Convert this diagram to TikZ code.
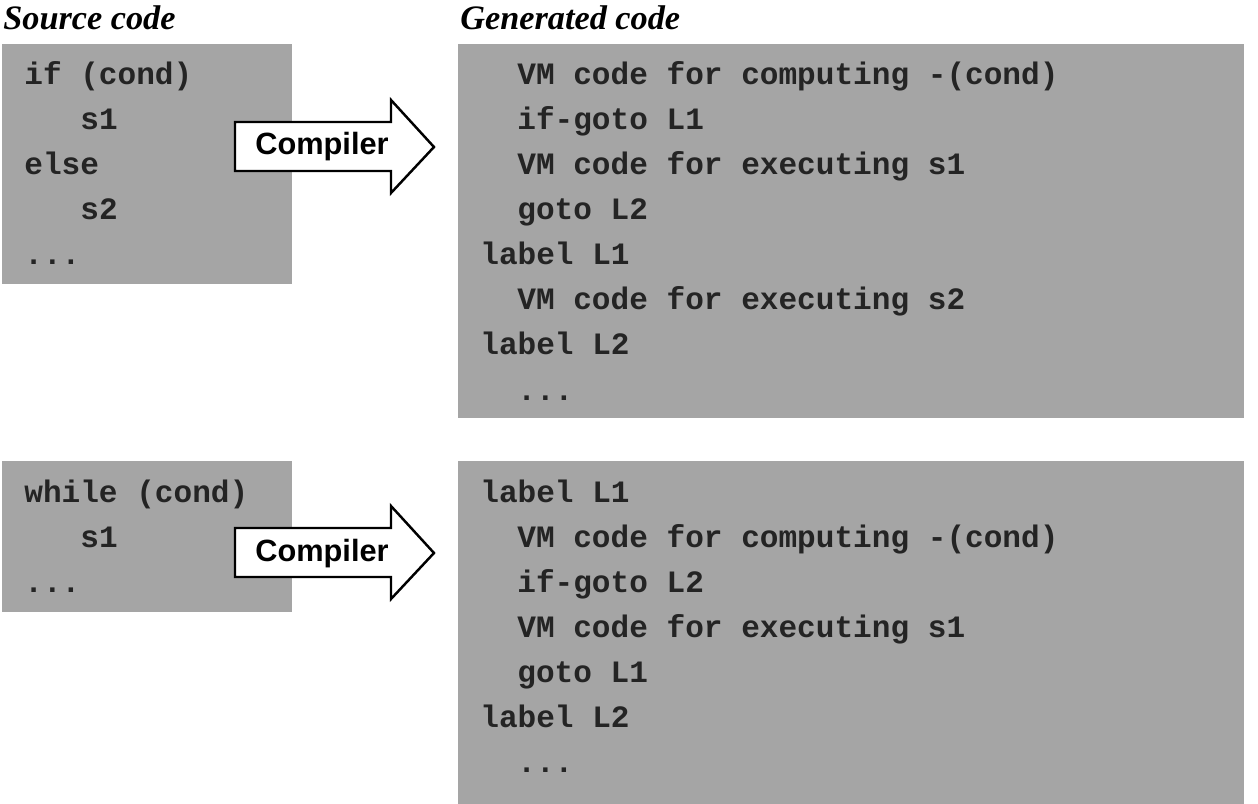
\documentclass[tikz,border=0pt]{standalone}
\usepackage{fontspec}
\setmainfont{Liberation Serif}
\setsansfont{Liberation Sans}
\newfontfamily\codefont{Liberation Mono}
\usetikzlibrary{positioning}
\definecolor{boxgray}{HTML}{A5A5A5}
\definecolor{inkgray}{HTML}{242424}

\begin{document}
\begin{tikzpicture}[x=0.02cm, y=-0.02cm, line join=miter, code line/.style={anchor=base west, inner sep=0pt, text=inkgray, font=\codefont\bfseries\fontsize{17.7}{20}\selectfont}, title/.style={anchor=base west, inner sep=0pt, font=\bfseries\itshape\fontsize{19.5}{22}\selectfont}, block arrow/.style={draw=black, fill=white, line width=1.4pt}, arrow label/.style={anchor=base west, inner sep=0pt, font=\sffamily\bfseries\fontsize{17.5}{20}\selectfont}]%
\useasboundingbox (0,0) rectangle (1258,804);
\begin{scope}
\fill[boxgray] (2,44) rectangle (292,284);
\fill[boxgray] (458,44) rectangle (1244,418);
\fill[boxgray] (2,461) rectangle (292,612);
\fill[boxgray] (458,461) rectangle (1244,804);
\end{scope}
\begin{scope}[every node/.style={title}]
\node (tsrc) at (3,30) {Source code};
\node (tgen) at (460,30) {Generated code};
\end{scope}
\begin{scope}[every node/.style={code line}]
% if ... else
\node (i0) at (24,85) {if (cond)};
\node (i1) at (80,130) {s1};
\node (i2) at (24,175) {else};
\node (i3) at (80,220) {s2};
\node (i4) at (24,265) {...};
\node (g0) at (517,85) {VM code for computing -(cond)};
\node (g1) at (517,130) {if-goto L1};
\node (g2) at (517,175) {VM code for executing s1};
\node (g3) at (517,220) {goto L2};
\node (g4) at (480,265) {label L1};
\node (g5) at (517,310) {VM code for executing s2};
\node (g6) at (480,355) {label L2};
\node (g7) at (517,400) {...};
% while
\node (w0) at (24,502) {while (cond)};
\node (w1) at (80,547) {s1};
\node (w2) at (24,592) {...};
\node (h0) at (480,502) {label L1};
\node (h1) at (517,547) {VM code for computing -(cond)};
\node (h2) at (517,592) {if-goto L2};
\node (h3) at (517,637) {VM code for executing s1};
\node (h4) at (517,682) {goto L1};
\node (h5) at (480,727) {label L2};
\node (h6) at (517,772) {...};
\end{scope}
\begin{scope}
\draw[block arrow] (235,122) -- (391,122) -- (391,100) -- (434,147) -- (391,193) -- (391,171) -- (235,171) -- cycle;
\node[arrow label] (cmpA) at (255,155) {Compiler};
\draw[block arrow] (235,528) -- (391,528) -- (391,506) -- (434,553) -- (391,599) -- (391,577) -- (235,577) -- cycle;
\node[arrow label] (cmpB) at (255,561) {Compiler};
\end{scope}
\end{tikzpicture}
\end{document}
